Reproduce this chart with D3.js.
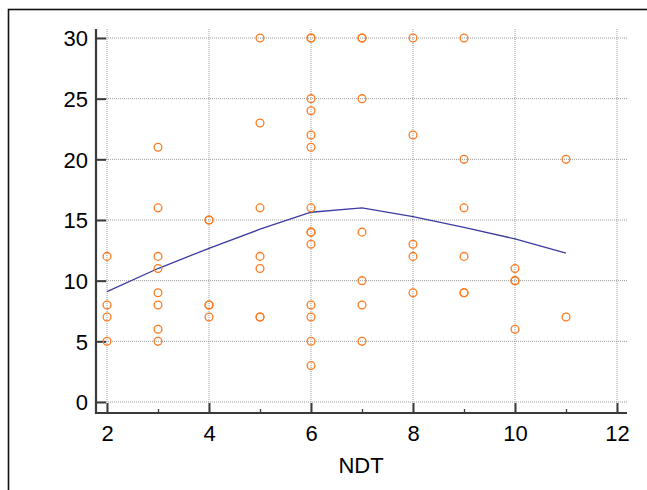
<!DOCTYPE html>
<html>
<head>
<meta charset="utf-8">
<script src="https://cdn.jsdelivr.net/npm/d3@7"></script>
<style>
  html, body { margin: 0; padding: 0; background: #fff; }
  svg { display: block; font-family: "Liberation Sans", Arial, sans-serif; }
</style>
</head>
<body>
<svg id="chart" width="647" height="490"></svg>
<script>
// observed points (NDT, y); repeated pairs are overlapping observations
const ndt = [
  2, 2, 2, 2,
  3, 3, 3, 3, 3, 3, 3, 3,
  4, 4, 4, 4, 4,
  5, 5, 5, 5, 5, 5, 5,
  6, 6, 6, 6, 6, 6, 6, 6, 6, 6, 6, 6, 6, 6,
  7, 7, 7, 7, 7, 7, 7,
  8, 8, 8, 8, 8,
  9, 9, 9, 9, 9, 9,
  10, 10, 10, 10,
  11, 11
]
const score = [
  12, 8, 7, 5,
  21, 16, 12, 11, 9, 8, 6, 5,
  15, 15, 8, 8, 7,
  30, 23, 16, 12, 11, 7, 7,
  30, 30, 25, 24, 22, 21, 16, 14, 14, 13, 8, 7, 5, 3,
  30, 30, 25, 14, 10, 8, 5,
  30, 22, 13, 12, 9,
  30, 20, 16, 12, 9, 9,
  11, 10, 10, 6,
  20, 7
]

// fitted curve
const fitX = [2, 3, 4, 5, 6, 7, 8, 9, 10, 11]
const fitY = [9.09, 11.0, 12.67, 14.24, 15.64, 16.0, 15.28, 14.4, 13.44, 12.28]

const xTicks = [2, 4, 6, 8, 10, 12]
const xMinorTicks = [3, 5, 7, 9, 11]
const yTicks = [0, 5, 10, 15, 20, 25, 30]
const xTitle = 'NDT'

const svg = d3.select('#chart')

// outer frame (runs off the right and bottom edges)
svg.append('rect')
  .attr('x', 8.5).attr('y', 9.5)
  .attr('width', 700).attr('height', 600)
  .style('fill', 'none')
  .style('stroke', '#111')
  .style('stroke-width', 1.6)

const x = d3.scaleLinear().domain([2, 12]).range([107, 617])
const y = d3.scaleLinear().domain([0, 30]).range([402, 38])

const plotLeft = 96, plotRight = 627, plotTop = 29, plotBottom = 413

// grid
const grid = svg.append('g').attr('class', 'grid')
grid.selectAll('.vgrid')
  .data(xTicks)
  .enter().append('line')
  .attr('x1', d => x(d)).attr('x2', d => x(d))
  .attr('y1', plotTop).attr('y2', plotBottom)
  .style('stroke', '#9a9a9a')
  .style('stroke-width', 1)
  .style('stroke-dasharray', '1,1')
grid.selectAll('.hgrid')
  .data(yTicks)
  .enter().append('line')
  .attr('x1', plotLeft).attr('x2', plotRight)
  .attr('y1', d => y(d)).attr('y2', d => y(d))
  .style('stroke', '#9a9a9a')
  .style('stroke-width', 1)
  .style('stroke-dasharray', '1,1')

// axes
const xAxis = svg.append('g')
  .attr('transform', `translate(0,${plotBottom})`)
  .call(d3.axisBottom(x).tickValues(xTicks).tickSize(-10).tickPadding(12).tickFormat(d3.format('d')))
const xMinor = svg.append('g')
  .attr('transform', `translate(0,${plotBottom})`)
  .call(d3.axisBottom(x).tickValues(xMinorTicks).tickSize(-4).tickFormat(''))
const yAxis = svg.append('g')
  .attr('transform', `translate(${plotLeft},0)`)
  .call(d3.axisLeft(y).tickValues(yTicks).tickSize(-10).tickPadding(8).tickFormat(d3.format('d')))

;[xAxis, xMinor, yAxis].forEach(g => {
  g.select('.domain').remove()
  g.selectAll('.tick line').style('stroke', '#3a3a3a').style('stroke-width', 2)
  g.selectAll('.tick text')
    .style('font-size', '22px')
    .style('fill', '#000')
    .style('font-family', '"Liberation Sans", Arial, sans-serif')
})
xMinor.selectAll('.tick line').style('stroke-width', 1.3)
yAxis.selectAll('.tick text').attr('dy', '0.36em')

svg.append('line')
  .attr('x1', plotLeft).attr('x2', plotLeft)
  .attr('y1', plotTop).attr('y2', plotBottom + 1)
  .style('stroke', '#3a3a3a').style('stroke-width', 2.2)
svg.append('line')
  .attr('x1', plotLeft - 1).attr('x2', plotRight)
  .attr('y1', plotBottom).attr('y2', plotBottom)
  .style('stroke', '#3a3a3a').style('stroke-width', 2.2)

// fitted line
const fit = fitX.map((d, i) => [d, fitY[i]])
svg.append('path')
  .datum(fit)
  .attr('d', d3.line().x(d => x(d[0])).y(d => y(d[1])))
  .style('fill', 'none')
  .style('stroke', '#3c3ca0')
  .style('stroke-width', 1.3)

// points
const points = ndt.map((d, i) => ({ ndt: d, score: score[i] }))
svg.append('g').attr('class', 'points')
  .selectAll('circle')
  .data(points)
  .enter().append('circle')
  .attr('cx', d => x(d.ndt))
  .attr('cy', d => y(d.score))
  .attr('r', 3.9)
  .style('fill', 'none')
  .style('stroke', '#ff7a1f')
  .style('stroke-width', 1.3)

// axis title
svg.append('text')
  .attr('x', 361)
  .attr('y', 473)
  .attr('text-anchor', 'middle')
  .style('font-size', '22px')
  .style('fill', '#000')
  .text(xTitle)
</script>
</body>
</html>
